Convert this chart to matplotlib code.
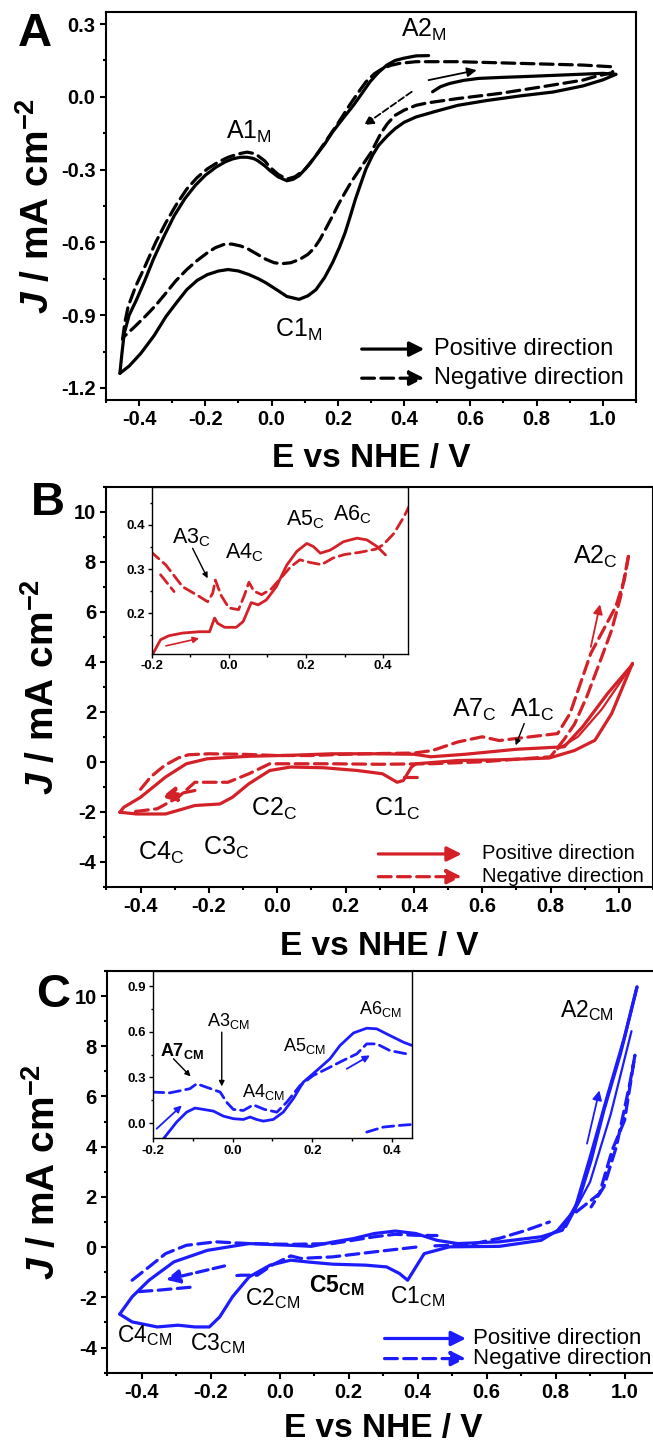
import numpy as np
import matplotlib.pyplot as plt
from matplotlib.ticker import MultipleLocator, FormatStrFormatter

plt.rcParams["font.family"] = ["Liberation Sans", "DejaVu Sans"]
plt.rcParams["font.weight"] = "bold"
plt.rcParams["mathtext.fontset"] = "custom"
plt.rcParams["mathtext.rm"] = "Liberation Sans"
plt.rcParams["mathtext.it"] = "Liberation Sans:italic:bold"
plt.rcParams["mathtext.bf"] = "Liberation Sans:bold"
plt.rcParams["mathtext.default"] = "regular"
plt.rcParams["axes.unicode_minus"] = False

# %% data (E vs NHE / V, J / mA cm-2)
# panel A, black
a_pos1_E = [-0.458, -0.452, -0.445, -0.43, -0.408, -0.385, -0.357, -0.325, -0.294, -0.262, -0.231,
            -0.2, -0.168, -0.14, -0.118, -0.095, -0.074, -0.055, -0.042, -0.02, -0.005, 0.02, 0.046,
            0.065, 0.083, 0.11, 0.134, 0.16, 0.184, 0.215, 0.247, 0.272, 0.297, 0.322, 0.348, 0.373,
            0.398, 0.436, 0.474]
a_pos1_J = [-1.14, -1.06, -0.975, -0.9, -0.837, -0.765, -0.67, -0.575, -0.49, -0.42, -0.366,
            -0.323, -0.29, -0.268, -0.256, -0.249, -0.249, -0.254, -0.263, -0.285, -0.304, -0.33, -0.346,
            -0.34, -0.325, -0.285, -0.242, -0.195, -0.145, -0.09, -0.035, 0.013, 0.062, 0.1, 0.131, 0.15,
            0.159, 0.169, 0.17]
a_pos2_E = [0.486, 0.51, 0.537, 0.58, 0.625, 0.69, 0.751, 0.877, 1.0, 1.04, 1.0, 0.94, 0.85, 0.751,
            0.65, 0.562, 0.5, 0.436, 0.4, 0.373, 0.35, 0.323, 0.305, 0.285, 0.27, 0.253, 0.238, 0.222,
            0.205, 0.184, 0.16, 0.134, 0.11, 0.083, 0.046, 0.015, -0.017, -0.04, -0.068, -0.1, -0.131,
            -0.16, -0.194, -0.225, -0.256, -0.285, -0.319, -0.355, -0.395, -0.43, -0.458]
a_pos2_J = [0.021, 0.042, 0.055, 0.068, 0.076, 0.08, 0.083, 0.09, 0.097, 0.093, 0.07, 0.045, 0.02,
            0.004, -0.015, -0.035, -0.058, -0.083, -0.105, -0.131, -0.16, -0.2, -0.24, -0.297, -0.355,
            -0.422, -0.49, -0.56, -0.62, -0.684, -0.745, -0.795, -0.82, -0.835, -0.823, -0.795, -0.767,
            -0.75, -0.733, -0.718, -0.712, -0.718, -0.733, -0.757, -0.795, -0.845, -0.906, -0.985,
            -1.058, -1.11, -1.14]
a_neg_E = [-0.45, -0.443, -0.433, -0.41, -0.382, -0.35, -0.319, -0.288, -0.256, -0.225, -0.194, -0.16,
           -0.131, -0.1, -0.074, -0.055, -0.042, -0.02, -0.005, 0.02, 0.046, 0.07, 0.1, 0.13, 0.16, 0.2,
           0.235, 0.26, 0.285, 0.31, 0.335, 0.36, 0.386, 0.436, 0.562, 0.751, 0.94, 1.028, 1.03, 0.98,
           0.94, 0.814, 0.688, 0.562, 0.47, 0.436, 0.4, 0.373, 0.35, 0.33, 0.315, 0.3, 0.28, 0.26, 0.24,
           0.222, 0.203, 0.184, 0.165, 0.146, 0.128, 0.109, 0.085, 0.058, 0.03, 0.008, -0.017, -0.042,
           -0.07, -0.093, -0.12, -0.143, -0.17, -0.194, -0.225, -0.256, -0.29, -0.319, -0.35, -0.382,
           -0.415, -0.445]
a_neg_J = [-1.0, -0.93, -0.864, -0.78, -0.698, -0.6, -0.518, -0.445, -0.38, -0.333, -0.297, -0.268,
           -0.249, -0.235, -0.228, -0.233, -0.242, -0.265, -0.29, -0.32, -0.339, -0.33, -0.3, -0.25,
           -0.19, -0.11, -0.035, 0.015, 0.062, 0.095, 0.117, 0.13, 0.138, 0.145, 0.145, 0.138, 0.131,
           0.124, 0.1, 0.085, 0.069, 0.041, 0.014, -0.007, -0.025, -0.035, -0.055, -0.076, -0.11, -0.15,
           -0.19, -0.23, -0.27, -0.311, -0.352, -0.394, -0.44, -0.491, -0.54, -0.588, -0.625, -0.65,
           -0.67, -0.684, -0.688, -0.684, -0.67, -0.65, -0.628, -0.615, -0.607, -0.608, -0.622, -0.643,
           -0.675, -0.712, -0.76, -0.809, -0.86, -0.906, -0.95, -0.988]

# panel B, red
b_pos1_E = [-0.461, -0.412, -0.327, -0.241, -0.168, -0.131, -0.083, -0.022, 0.039, 0.137, 0.235, 0.308,
            0.351, 0.369, 0.393, 0.406, 0.528, 0.65, 0.796, 0.87, 0.93, 0.979, 1.04]
b_pos1_J = [-2.02, -2.09, -2.09, -1.75, -1.69, -1.42, -0.88, -0.35, -0.21, -0.24, -0.35, -0.48,
            -0.82, -0.75, -0.21, -0.08, 0.05, 0.08, 0.15, 0.45, 0.86, 1.93, 3.94]
b_pos2_E = [1.04, 0.967, 0.894, 0.84, 0.7, 0.55, 0.45, 0.4, 0.283, 0.161, 0.039, -0.083, -0.205,
            -0.266, -0.327, -0.4, -0.449, -0.461]
b_pos2_J = [3.9, 2.73, 1.4, 0.6, 0.5, 0.3, 0.2, 0.3, 0.32, 0.32, 0.26, 0.22, 0.12, -0.08, -0.61,
            -1.42, -1.82, -2.02]
b_pos3_E = [0.82, 0.88, 0.95, 1.02]
b_pos3_J = [0.5, 1.0, 2.1, 3.5]
b_neg1_E = [-0.4, -0.37, -0.33, -0.29, -0.26, -0.2, -0.1, 0.0, 0.1, 0.2, 0.3, 0.4, 0.454, 0.528, 0.6,
            0.65, 0.711, 0.821, 0.857, 0.918, 0.991, 1.016, 1.028]
b_neg1_J = [-1.1, -0.6, -0.15, 0.15, 0.28, 0.32, 0.3, 0.25, 0.25, 0.3, 0.33, 0.35, 0.45, 0.79, 1.0,
            0.85, 0.95, 1.13, 1.93, 4.34, 6.21, 7.28, 8.22]
b_neg2_E = [1.028, 1.005, 0.979, 0.943, 0.906, 0.87, 0.84, 0.8, 0.6, 0.45, 0.3, 0.161, -0.022, -0.083,
            -0.144, -0.241, -0.29, -0.351, -0.42]
b_neg2_J = [8.22, 6.6, 5.27, 3.94, 2.6, 1.5, 0.9, 0.2, 0.0, -0.08, -0.1, -0.08, -0.08, -0.48, -0.82,
            -0.82, -1.42, -1.88, -2.0]
b_neg3_E = [0.37, 0.42]
b_neg3_J = [-0.62, -0.62]

# panel B inset
bi_pos_E = [-0.198, -0.177, -0.155, -0.12, -0.077, -0.05, -0.037, -0.029, -0.011, 0.019, 0.037, 0.058,
            0.076, 0.097, 0.123, 0.15, 0.176, 0.202, 0.219, 0.237, 0.263, 0.297, 0.332, 0.358, 0.384, 0.406]
bi_pos_J = [0.106, 0.14, 0.149, 0.155, 0.158, 0.158, 0.189, 0.177, 0.168, 0.168, 0.181, 0.224, 0.219,
            0.23, 0.26, 0.309, 0.34, 0.358, 0.351, 0.336, 0.343, 0.362, 0.37, 0.366, 0.351, 0.332]
bi_neg_E = [-0.203, -0.163, -0.12, -0.077, -0.055, -0.042, -0.035, -0.02, 0.0, 0.025, 0.04, 0.052,
            0.065, 0.085, 0.11, 0.135, 0.16, 0.184, 0.21, 0.24, 0.27, 0.3, 0.34, 0.38, 0.4, 0.428, 0.454,
            0.467]
bi_neg_J = [0.34, 0.309, 0.26, 0.238, 0.226, 0.245, 0.275, 0.24, 0.212, 0.208, 0.24, 0.27, 0.25, 0.242,
            0.255, 0.28, 0.305, 0.321, 0.315, 0.31, 0.325, 0.333, 0.338, 0.345, 0.355, 0.381, 0.419, 0.442]
bi_neg2_E = [-0.177, -0.142]
bi_neg2_J = [0.287, 0.249]

# panel C, blue
c_pos1_E = [-0.464, -0.428, -0.355, -0.295, -0.246, -0.204, -0.174, -0.137, -0.089, -0.028, 0.032,
            0.08, 0.153, 0.25, 0.31, 0.347, 0.371, 0.389, 0.419, 0.492, 0.637, 0.758, 0.806, 0.855,
            0.903, 0.952, 1.0, 1.036]
c_pos1_J = [-2.67, -2.98, -3.18, -3.11, -3.18, -3.18, -2.78, -1.98, -1.19, -0.72, -0.52, -0.59, -0.68,
            -0.72, -0.79, -1.05, -1.32, -0.92, -0.26, 0.01, 0.03, 0.27, 0.67, 1.47, 3.72, 6.11, 8.37, 10.36]
c_pos2_E = [1.036, 0.988, 0.94, 0.903, 0.867, 0.819, 0.758, 0.637, 0.516, 0.456, 0.395, 0.335, 0.274,
            0.214, 0.153, 0.092, 0.032, -0.089, -0.21, -0.307, -0.379, -0.428, -0.464]
c_pos2_J = [10.36, 7.7, 5.45, 3.46, 1.87, 0.67, 0.41, 0.21, 0.14, 0.27, 0.54, 0.64, 0.54, 0.34, 0.2,
            0.03, 0.07, 0.14, -0.13, -0.59, -1.32, -1.98, -2.67]
c_pos3_E = [0.83, 0.9, 0.96, 1.02]
c_pos3_J = [0.8, 2.6, 5.3, 8.6]
c_neg1_E = [-0.428, -0.379, -0.331, -0.271, -0.186, -0.089, 0.032, 0.153, 0.274, 0.335, 0.395, 0.456]
c_neg1_J = [-1.32, -0.79, -0.26, 0.07, 0.21, 0.14, 0.11, 0.14, 0.41, 0.51, 0.47, 0.46]
c_neg2_E = [0.45, 0.55, 0.637, 0.71, 0.782]
c_neg2_J = [0.05, 0.1, 0.35, 0.65, 1.0]
c_neg3_E = [0.86, 0.927, 0.964, 1.0, 1.03, 1.015, 0.976, 0.94, 0.903]
c_neg3_J = [1.4, 2.13, 3.86, 5.05, 7.64, 6.5, 3.99, 2.4, 1.6]
c_neg4_E = [0.395, 0.274, 0.153, 0.06, 0.032, -0.02, -0.065, -0.113, -0.14]
c_neg4_J = [0.0, -0.19, -0.39, -0.45, -0.35, -0.7, -1.12, -1.12, -1.15]
c_neg5_E = [-0.26, -0.355, -0.416]
c_neg5_J = [-1.6, -1.72, -1.78]

# panel C inset
ci_pos_E = [-0.173, -0.14, -0.115, -0.094, -0.073, -0.048, -0.023, 0.002, 0.027, 0.044, 0.06, 0.077,
            0.102, 0.127, 0.152, 0.177, 0.211, 0.244, 0.269, 0.303, 0.336, 0.361, 0.394, 0.428, 0.45]
ci_pos_J = [-0.103, 0.007, 0.072, 0.099, 0.09, 0.079, 0.046, 0.029, 0.024, 0.04, 0.024, 0.013, 0.024,
            0.072, 0.16, 0.269, 0.346, 0.423, 0.51, 0.593, 0.624, 0.62, 0.576, 0.532, 0.51]
ci_neg_E = [-0.2, -0.157, -0.107, -0.09, -0.077, -0.031, -0.015, 0.002, 0.027, 0.052, 0.08, 0.111,
            0.136, 0.169, 0.202, 0.236, 0.277, 0.311, 0.336, 0.361, 0.394, 0.444]
ci_neg_J = [0.204, 0.199, 0.226, 0.258, 0.247, 0.204, 0.138, 0.09, 0.083, 0.12, 0.09, 0.072, 0.138,
            0.247, 0.313, 0.357, 0.412, 0.455, 0.521, 0.521, 0.477, 0.451]
ci_neg2_E = [0.336, 0.378, 0.419, 0.45]
ci_neg2_J = [-0.059, -0.026, -0.015, -0.009]

# %% styles
RED = "#d42027"
BLUE = "#1c1cff"
LW = 2.3


def trace(ax, E, J, color, dashed=False, lw=LW):
    (line,) = ax.plot(E, J, color=color, lw=lw, solid_capstyle="round",
                      dash_capstyle="round", solid_joinstyle="round")
    if dashed:
        line.set_dashes((4, 2))
    return line


def arrow(ax, tail, head, color, lw=1.4, ls="-", ms=14):
    ax.annotate("", xy=head, xytext=tail,
                arrowprops=dict(arrowstyle="-|>", color=color, lw=lw, ls=ls,
                                mutation_scale=ms, shrinkA=0, shrinkB=0))


def label(ax, x, y, main, sub, fs=17, bold=False):
    ax.text(x, y, main + r"$_{" + sub + "}$", fontsize=fs, ha="center", va="center",
            fontweight="bold" if bold else "normal")


def frame(ax, xmaj, ymaj, yfmt, fs, lw=1.5, big=True):
    for s in ax.spines.values():
        s.set_linewidth(lw)
    ax.xaxis.set_major_locator(MultipleLocator(xmaj))
    ax.xaxis.set_minor_locator(MultipleLocator(xmaj / 2))
    ax.yaxis.set_major_locator(MultipleLocator(ymaj))
    ax.yaxis.set_minor_locator(MultipleLocator(ymaj / 2))
    ax.xaxis.set_major_formatter(FormatStrFormatter("%.1f"))
    ax.yaxis.set_major_formatter(FormatStrFormatter(yfmt))
    ax.tick_params(which="both", direction="out", top=False, right=False, width=lw)
    ax.tick_params(which="major", length=4.5 if big else 3, labelsize=fs, pad=3 if big else 1.5)
    ax.tick_params(which="minor", length=2.5 if big else 1.8)


def legend(ax, x0, x1, y1, y2, tx, color, fs=14):
    arrow(ax, (x0, y1), (x1, y1), color, lw=LW, ms=22)
    arrow(ax, (x0, y2), (x1, y2), color, lw=LW, ls=(0, (4, 2)), ms=22)
    ax.text(tx, y1, "Positive direction", fontsize=fs, fontweight="normal", va="center")
    ax.text(tx, y2, "Negative direction", fontsize=fs, fontweight="normal", va="center")


fig = plt.figure(figsize=(6.53, 14.42), dpi=100)
axA = fig.add_axes([0.1623, 0.7226, 0.8116, 0.2691])
axB = fig.add_axes([0.163, 0.3851, 0.837, 0.2772])
axC = fig.add_axes([0.1643, 0.0481, 0.845, 0.2786])

ylab = r"$\mathit{J}$ / mA cm$^{-2}$"
for ax in (axA, axB, axC):
    ax.set_xlim(-0.5, 1.1)
    ax.set_xlabel("E vs NHE / V", fontsize=24, fontweight="bold")
    ax.set_ylabel(ylab, fontsize=28, fontweight="bold")
    ax.xaxis.label.set_verticalalignment("center")
    ax.yaxis.label.set_verticalalignment("center")

# %% panel A
axA.set_ylim(-1.25, 0.35)
frame(axA, 0.2, 0.3, "%.1f", 14.5)
trace(axA, a_pos1_E, a_pos1_J, "black")
trace(axA, a_pos2_E, a_pos2_J, "black")
trace(axA, a_neg_E, a_neg_J, "black", dashed=True)
arrow(axA, (0.474, 0.069), (0.619, 0.11), "black", lw=1.3)
arrow(axA, (0.423, 0.021), (0.279, -0.117), "black", lw=1.3, ls="--")
label(axA, -0.068, -0.145, "A1", "M", fs=18)
label(axA, 0.461, 0.276, "A2", "M", fs=18)
label(axA, 0.083, -0.96, "C1", "M", fs=18)
legend(axA, 0.272, 0.461, -1.04, -1.16, 0.49, "black", fs=17)
axA.xaxis.set_label_coords(0.5, -58 / 388)
axA.yaxis.set_label_coords(-68 / 530, 0.5)

# %% panel B
axB.set_ylim(-5, 11)
frame(axB, 0.2, 2, "%d", 14.5)
trace(axB, b_pos1_E, b_pos1_J, RED)
trace(axB, b_pos2_E, b_pos2_J, RED)
trace(axB, b_pos3_E, b_pos3_J, RED, lw=1.6)
trace(axB, b_neg1_E, b_neg1_J, RED, dashed=True)
trace(axB, b_neg2_E, b_neg2_J, RED, dashed=True)
trace(axB, b_neg3_E, b_neg3_J, RED, dashed=True)
arrow(axB, (-0.241, -1.15), (-0.339, -1.42), RED, lw=LW, ls="--", ms=22)
arrow(axB, (0.918, 4.6), (0.945, 6.3), RED, lw=1.3)
arrow(axB, (0.723, 1.53), (0.698, 0.66), "black", lw=1.0, ms=8)
label(axB, 0.93, 8.22, "A2", "C", fs=18)
label(axB, 0.576, 2.06, "A7", "C", fs=18)
label(axB, 0.747, 2.06, "A1", "C", fs=18)
label(axB, 0.351, -1.89, "C1", "C", fs=18)
label(axB, -0.01, -1.89, "C2", "C", fs=18)
label(axB, -0.15, -3.43, "C3", "C", fs=18)
label(axB, -0.339, -3.63, "C4", "C", fs=18)
legend(axB, 0.296, 0.54, -3.69, -4.6, 0.6, RED, fs=14.5)
axB.xaxis.set_label_coords(0.5, -60 / 400)
axB.yaxis.set_label_coords(-64 / 546, 0.5)

insB = fig.add_axes([0.2323, 0.5463, 0.393, 0.116])
insB.set_xlim(-0.2, 0.465)
insB.set_ylim(0.107, 0.486)
frame(insB, 0.2, 0.1, "%.1f", 9.5, lw=1.0, big=False)
trace(insB, bi_pos_E, bi_pos_J, RED, lw=2.0)
trace(insB, bi_neg_E, bi_neg_J, RED, dashed=True, lw=2.0)
trace(insB, bi_neg2_E, bi_neg2_J, RED, dashed=True, lw=2.0)
arrow(insB, (-0.163, 0.126), (-0.077, 0.143), RED, lw=1.2, ms=9)
arrow(insB, (-0.094, 0.347), (-0.055, 0.279), "black", lw=1.0, ms=8)
label(insB, -0.098, 0.37, "A3", "C", fs=15.5)
label(insB, 0.04, 0.336, "A4", "C", fs=15.5)
label(insB, 0.197, 0.411, "A5", "C", fs=15.5)
label(insB, 0.319, 0.423, "A6", "C", fs=15.5)

# %% panel C
axC.set_ylim(-5, 11)
frame(axC, 0.2, 2, "%d", 14.5)
trace(axC, c_pos1_E, c_pos1_J, BLUE)
trace(axC, c_pos2_E, c_pos2_J, BLUE)
trace(axC, c_pos3_E, c_pos3_J, BLUE, lw=1.6)
trace(axC, c_neg1_E, c_neg1_J, BLUE, dashed=True)
trace(axC, c_neg2_E, c_neg2_J, BLUE, dashed=True)
trace(axC, c_neg3_E, c_neg3_J, BLUE, dashed=True)
trace(axC, c_neg4_E, c_neg4_J, BLUE, dashed=True)
trace(axC, c_neg5_E, c_neg5_J, BLUE, dashed=True)
arrow(axC, (-0.16, -0.75), (-0.33, -1.3), BLUE, lw=LW, ls="--", ms=20)
arrow(axC, (0.891, 4.12), (0.927, 6.24), BLUE, lw=1.3)
label(axC, 0.891, 9.43, "A2", "CM", fs=16.5)
label(axC, -0.022, -2.05, "C2", "CM", fs=16.5)
label(axC, 0.165, -1.52, "C5", "CM", fs=16.5, bold=True)
label(axC, 0.401, -1.98, "C1", "CM", fs=16.5)
label(axC, -0.18, -3.84, "C3", "CM", fs=16.5)
label(axC, -0.392, -3.51, "C4", "CM", fs=16.5)
legend(axC, 0.304, 0.54, -3.64, -4.44, 0.56, BLUE, fs=16)
axC.xaxis.set_label_coords(0.5, -56 / 401)
axC.yaxis.set_label_coords(-64 / 551, 0.5)

insC = fig.add_axes([0.2338, 0.2106, 0.3975, 0.116])
insC.set_xlim(-0.2, 0.45)
insC.set_ylim(-0.1, 1.0)
frame(insC, 0.2, 0.3, "%.1f", 9.5, lw=1.0, big=False)
trace(insC, ci_pos_E, ci_pos_J, BLUE, lw=2.0)
trace(insC, ci_neg_E, ci_neg_J, BLUE, dashed=True, lw=2.0)
trace(insC, ci_neg2_E, ci_neg2_J, BLUE, dashed=True, lw=2.0)
arrow(insC, (-0.19, -0.037), (-0.127, 0.116), BLUE, lw=1.3, ms=10)
arrow(insC, (0.286, 0.357), (0.344, 0.445), BLUE, lw=1.3, ms=10)
arrow(insC, (-0.148, 0.423), (-0.105, 0.307), "black", lw=1.0, ms=8)
arrow(insC, (-0.027, 0.598), (-0.027, 0.241), "black", lw=1.0, ms=8)
label(insC, -0.127, 0.477, "A7", "CM", fs=13, bold=True)
label(insC, -0.01, 0.674, "A3", "CM", fs=13)
label(insC, 0.077, 0.204, "A4", "CM", fs=13)
label(insC, 0.181, 0.51, "A5", "CM", fs=13)
label(insC, 0.369, 0.751, "A6", "CM", fs=13)

# panel letters
fig.text(35 / 653, 1 - 34 / 1442, "A", fontsize=34, ha="center", va="center")
fig.text(48 / 653, 1 - 503 / 1442, "B", fontsize=34, ha="center", va="center")
fig.text(53 / 653, 1 - 995 / 1442, "C", fontsize=34, ha="center", va="center")

fig.savefig("out.png", dpi=100)
